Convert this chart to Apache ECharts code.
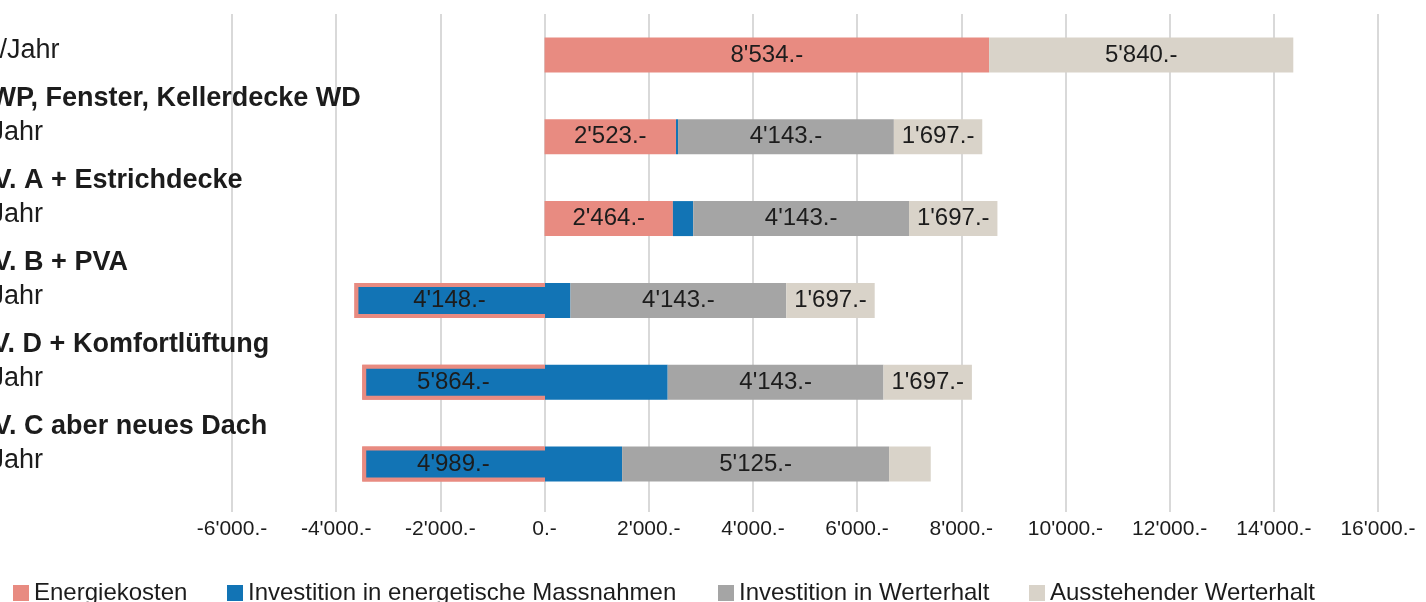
<!DOCTYPE html>
<html lang="de">
<head>
<meta charset="utf-8">
<title>Kostenvergleich Varianten</title>
<script src="https://cdn.jsdelivr.net/npm/echarts@6/dist/echarts.min.js"></script>
<style>
  html, body { margin: 0; padding: 0; background: #ffffff; }
  #chart { width: 1426px; height: 602px; }
</style>
</head>
<body>
<div id="chart"></div>
<script>
// Zeilenbeschriftungen (Titel fett, Zusatzzeile normal)
const rowTitles = [
  'Ist-Zustand',
  'Variante A: mit WP, Fenster, Kellerdecke WD',
  'Variante B: wie V. A + Estrichdecke',
  'Variante C: wie V. B + PVA',
  'Variante E: wie V. D + Komfortlüftung',
  'Variante D: wie V. C aber neues Dach'
];
const rowNotes = [
  'Mittl. Kosten CHF/Jahr',
  'Mittl. Kosten pro Jahr',
  'Mittl. Kosten pro Jahr',
  'Mittl. Kosten pro Jahr',
  'Mittl. Kosten pro Jahr',
  'Mittl. Kosten pro Jahr'
];

// Werte in CHF pro Jahr
const seriesNames = [
  'Energiekosten',
  'Investition in energetische Massnahmen',
  'Investition in Werterhalt',
  'Ausstehender Werterhalt'
];
const energiekosten     = [8534, 2523, 2464, -3650, -3500, -3500];
const investEnergie     = [0, 40, 390, 4148, 5864, 4989];
const investWerterhalt  = [0, 4143, 4143, 4143, 4143, 5125];
const ausstehend        = [5840, 1697, 1697, 1697, 1697, 800];

// Achsenbereich
const axisMin = -6000;
const axisMax = 16000;
const axisStep = 2000;

const colors = ['#E88B81', '#1274B5', '#A5A5A5', '#D9D3C9'];
const textColor = '#1c1c1c';
const fontFamily = '"Liberation Sans", Arial, sans-serif';

// Schweizer Zahlenformat: 8'534.-
function chf(v) {
  const s = String(Math.round(Math.abs(v))).replace(/\B(?=(\d{3})+(?!\d))/g, "'");
  return (v < 0 ? '-' : '') + s + '.-';
}

// Werte ab 1'000 werden im Balken beschriftet
function barLabel(p) {
  const v = typeof p.value === 'object' ? p.value.value : p.value;
  return v >= 1000 ? chf(v) : '';
}

const labelStyle = {
  show: true,
  position: 'inside',
  color: textColor,
  fontSize: 24,
  fontFamily: fontFamily,
  formatter: barLabel
};

// Investitionsbalken beginnen am Ende negativer Energiekosten.
// Der negative Abschnitt erhält einen Rahmen in der Farbe der Energiekosten,
// die Beschriftung sitzt mittig in diesem Abschnitt.
const investData = investEnergie.map((v, i) => {
  const e = energiekosten[i];
  if (e < 0 && v > 0) {
    const f = -e / v;
    return {
      value: v,
      itemStyle: {
        borderWidth: 4,
        borderColor: {
          type: 'linear', x: 0, y: 0, x2: 1, y2: 0,
          colorStops: [
            { offset: 0, color: colors[0] },
            { offset: f, color: colors[0] },
            { offset: f, color: colors[1] },
            { offset: 1, color: colors[1] }
          ]
        }
      },
      label: {
        position: [(f * 50).toFixed(2) + '%', '50%'],
        align: 'center',
        verticalAlign: 'middle'
      }
    };
  }
  return v;
});

const stackValues = [energiekosten, investData, investWerterhalt, ausstehend];

const series = seriesNames.map((name, k) => ({
  name: name,
  type: 'bar',
  stack: 'total',
  stackStrategy: 'all',
  barWidth: 35,
  itemStyle: { color: colors[k] },
  label: labelStyle,
  emphasis: { disabled: true },
  data: stackValues[k]
}));

// Legende: je Eintrag eine eigene Komponente
const legendLeft = [13, 227, 718, 1029];
const legends = seriesNames.map((name, k) => ({
  data: [name],
  left: legendLeft[k],
  top: 581,
  padding: 0,
  icon: 'rect',
  itemWidth: 16,
  itemHeight: 16,
  selectedMode: false,
  textStyle: { color: textColor, fontSize: 24, fontFamily: fontFamily }
}));

const chart = echarts.init(document.getElementById('chart'), null, { renderer: 'canvas' });
chart.setOption({
  animation: false,
  backgroundColor: '#ffffff',
  color: colors,
  textStyle: { fontFamily: fontFamily },
  legend: legends,
  grid: {
    left: 232,
    right: 48,
    top: 14,
    bottom: 97,
    containLabel: false,
    outerBoundsMode: 'none'
  },
  xAxis: {
    type: 'value',
    min: axisMin,
    max: axisMax,
    interval: axisStep,
    axisLine: { show: false },
    axisTick: { show: true, length: 7, lineStyle: { color: '#d9d9d9', width: 2 } },
    splitLine: { show: true, lineStyle: { color: '#d9d9d9', width: 2 } },
    axisLabel: {
      color: textColor,
      fontSize: 21,
      fontFamily: fontFamily,
      margin: 14,
      formatter: v => chf(v)
    }
  },
  yAxis: {
    type: 'category',
    inverse: true,
    data: rowTitles,
    axisLine: { show: false },
    axisTick: { show: false },
    splitLine: { show: false },
    axisLabel: {
      interval: 0,
      align: 'left',
      margin: 444,
      padding: [0, 0, 42, 0],
      formatter: (val, idx) => '{b|' + rowTitles[idx] + '}\n{n|' + rowNotes[idx] + '}',
      rich: {
        b: { fontSize: 27, fontWeight: 'bold', lineHeight: 34, padding: [0, 0, 0, 6], color: textColor, fontFamily: fontFamily },
        n: { fontSize: 27, lineHeight: 34, color: textColor, fontFamily: fontFamily }
      }
    }
  },
  series: series
});
</script>
</body>
</html>
